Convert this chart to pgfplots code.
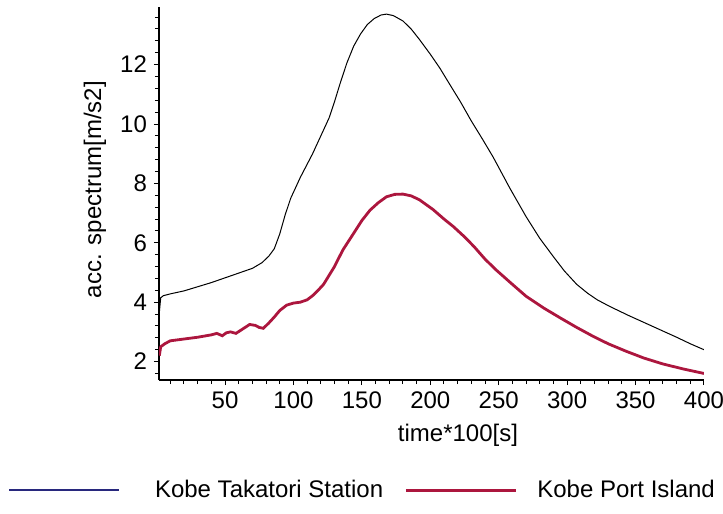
\documentclass[border=0pt]{standalone}
\usepackage{fontspec}
\setmainfont{Liberation Sans}
\usepackage{pgfplots}
\pgfplotsset{compat=1.18}
\definecolor{portred}{RGB}{172,22,62}
\definecolor{legblue}{RGB}{40,40,125}
\newcommand{\cfont}{\fontsize{12}{14}\selectfont}
\begin{document}
\begin{tikzpicture}[font=\cfont]
\path[use as bounding box] (-79.5pt,-67pt) rectangle (282pt,190pt);
\begin{axis}[
  anchor=south west, at={(0pt,0pt)},
  scale only axis, width=272.5pt, height=186.65pt,
  xmin=1.75, xmax=400, ymin=1.38, ymax=13.95,
  axis lines=left, axis line style={-, line width=0.6pt},
  tick align=outside, tick style={black, line width=0.5pt},
  major tick length=2.5pt, minor tick length=2pt,
  xtick={50,100,...,400}, minor xtick={10,20,...,390},
  ytick={2,4,...,12}, minor ytick={1.6,2.0,...,13.7},
  /pgf/number format/assume math mode=true,
  tick label style={font=\cfont},
  label style={font=\cfont},
  xlabel={time*100[s]}, ylabel={acc. spectrum[m/s2]},
  xlabel style={at={(axis description cs:0.5486,-0.1475)}, anchor=center},
  ylabel style={at={(axis description cs:-0.1174,0.51)}, anchor=center},
  legend columns=2,
  legend style={at={(axis description cs:-0.277,-0.295)}, anchor=west,
    draw=none, fill=none, font=\cfont, inner sep=0pt,
    /tikz/every odd column/.append style={column sep=8pt},
    /tikz/every even column/.append style={column sep=8.5pt}},
  legend image code/.code={\draw[#1] (0pt,0pt) -- (55pt,0pt);},
]
\addplot[black, line width=0.5pt, forget plot] coordinates {
(2,3.65) (3,4.15) (5,4.22) (10,4.28) (20,4.38) (30,4.52) (40,4.66) (50,4.82)
(60,4.98) (70,5.14) (77,5.33) (82,5.55) (86,5.8) (90,6.3) (94,6.95) (98,7.5)
(105,8.2) (114,9.0) (120,9.6) (126,10.2) (130,10.75) (134,11.35) (139,12.05)
(144,12.62) (149,13.03) (154,13.35) (159,13.55) (164,13.67) (168,13.7)
(173,13.65) (180,13.47) (186,13.2) (192,12.85) (200,12.35) (207,11.88)
(214,11.35) (222,10.75) (230,10.1) (238,9.5) (246,8.88) (258,7.85) (270,6.88)
(280,6.15) (290,5.53) (298,5.05) (307,4.6) (315,4.3) (322,4.08) (331,3.86)
(345,3.55) (357,3.3) (368,3.07) (380,2.82) (390,2.6) (400,2.4)
};
\addplot[portred, line width=1.4pt, forget plot] coordinates {
(2,2.2) (3,2.5) (6,2.6) (10,2.7) (20,2.76) (30,2.82) (40,2.9) (44,2.95)
(48,2.87) (51,2.97) (54,3.0) (58,2.95) (63,3.1) (68,3.25) (72,3.22)
(75,3.15) (78,3.12) (82,3.3) (86,3.5) (90,3.72) (95,3.9) (100,3.97) (105,4.0)
(110,4.08) (114,4.22) (118,4.4) (122,4.6) (126,4.9) (130,5.2) (136,5.75)
(144,6.32) (150,6.75) (156,7.1) (162,7.35) (168,7.55) (174,7.63) (180,7.64)
(186,7.58) (192,7.45) (202,7.12) (210,6.8) (217,6.54) (225,6.2) (232,5.87)
(240,5.45) (248,5.09) (260,4.6) (270,4.2) (283,3.8) (295,3.47) (307,3.15)
(319,2.85) (330,2.6) (343,2.35) (356,2.12) (370,1.92) (385,1.75) (400,1.6)
};
\addlegendimage{legblue, line width=0.8pt}
\addlegendentry{\hspace{7.5pt}Kobe Takatori Station}
\addlegendimage{portred, line width=1.6pt}
\addlegendentry{Kobe Port Island}
\end{axis}
\end{tikzpicture}
\end{document}
